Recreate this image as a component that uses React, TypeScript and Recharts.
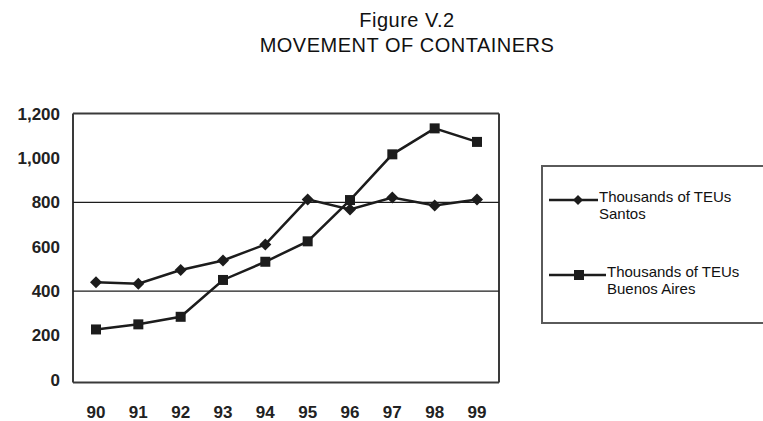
import {
  LineChart,
  Line,
  XAxis,
  YAxis,
  CartesianGrid,
  ReferenceLine,
} from "recharts";

const years = ["90", "91", "92", "93", "94", "95", "96", "97", "98", "99"];
const santos = [440, 433, 495, 538, 610, 813, 768, 821, 786, 813];
const buenosAires = [227, 250, 284, 450, 532, 624, 810, 1016, 1133, 1072];
const yTicks = [0, 200, 400, 600, 800, 1000, 1200];
const gridValues = [400, 800];

const data = years.map((year, i) => ({
  year,
  santos: santos[i],
  buenosAires: buenosAires[i],
}));

const INK = "#1c1c1c";
const FRAME = "#3a3a3a";
const FONT = "'Liberation Sans', Arial, sans-serif";

const Diamond = (props: any) => {
  const { cx, cy } = props;
  if (cx == null || cy == null) return null;
  const r = 6;
  return (
    <polygon
      points={`${cx},${cy - r} ${cx + r},${cy} ${cx},${cy + r} ${cx - r},${cy}`}
      fill={INK}
    />
  );
};

const Square = (props: any) => {
  const { cx, cy } = props;
  if (cx == null || cy == null) return null;
  const s = 10;
  return <rect x={cx - s / 2} y={cy - s / 2} width={s} height={s} fill={INK} />;
};

// legend box, drawn by hand to match the original layout
const LegendBox = () => (
  <div
    style={{
      position: "absolute",
      left: 541,
      top: 165,
      width: 240,
      height: 155,
      border: "2px solid #5a5a5a",
      background: "#fff",
      fontFamily: FONT,
      fontSize: 15,
      lineHeight: "17px",
      color: "#111",
    }}
  >
    <svg
      width={80}
      height={130}
      style={{ position: "absolute", left: 0, top: 0 }}
    >
      <line x1={6} x2={55} y1={33} y2={33} stroke={INK} strokeWidth={2.5} />
      <polygon points="35,28 40,33 35,38 30,33" fill={INK} />
      <line x1={6} x2={63} y1={108} y2={108} stroke={INK} strokeWidth={2.5} />
      <rect x={31} y={103} width={10} height={10} fill={INK} />
    </svg>
    <div style={{ position: "absolute", left: 56, top: 21, whiteSpace: "nowrap" }}>
      Thousands of TEUs
      <br />
      Santos
    </div>
    <div style={{ position: "absolute", left: 64, top: 96, whiteSpace: "nowrap" }}>
      Thousands of TEUs
      <br />
      Buenos Aires
    </div>
  </div>
);

const titleStyle = {
  position: "absolute" as const,
  left: 0,
  width: 814,
  textAlign: "center" as const,
  fontFamily: FONT,
  fontSize: 20,
  lineHeight: "25px",
  letterSpacing: 0.5,
  color: "#111",
};

const tickFont = { fontFamily: FONT, fontSize: 17, fontWeight: 700, fill: "#222" };

// frame around the plot area: grid lines only at its four edges
const frameRows = ({ offset }: any) => [offset.top, offset.top + offset.height];
const frameCols = ({ offset }: any) => [offset.left, offset.left + offset.width];

export default function App() {
  return (
    <div
      style={{
        position: "absolute",
        left: 0,
        top: 0,
        width: 763,
        height: 421,
        background: "#fff",
        overflow: "hidden",
      }}
    >
      <div style={{ ...titleStyle, top: 8 }}>Figure V.2</div>
      <div style={{ ...titleStyle, top: 33 }}>MOVEMENT OF CONTAINERS</div>
      <LineChart
        width={763}
        height={421}
        data={data}
        margin={{ top: 113.5, right: 264, bottom: 0, left: 0 }}
      >
        <CartesianGrid
          horizontalCoordinatesGenerator={frameRows}
          verticalCoordinatesGenerator={frameCols}
          stroke={FRAME}
          strokeWidth={2}
        />
        <XAxis
          dataKey="year"
          height={38.5}
          padding={{ left: 23, right: 22 }}
          axisLine={false}
          tickLine={false}
          tickSize={0}
          tickMargin={23}
          interval={0}
          tick={tickFont}
        />
        <YAxis
          width={73}
          domain={[-12, 1200]}
          ticks={yTicks}
          allowDataOverflow
          axisLine={false}
          tickLine={false}
          tickSize={0}
          tickMargin={13}
          tickFormatter={(v: number) => v.toLocaleString("en-US")}
          tick={tickFont}
        />
        {gridValues.map((v) => (
          <ReferenceLine key={v} y={v} stroke={INK} strokeWidth={1.3} />
        ))}
        <Line
          dataKey="santos"
          name="Thousands of TEUs Santos"
          stroke={INK}
          strokeWidth={2.5}
          dot={<Diamond />}
          activeDot={false}
          isAnimationActive={false}
        />
        <Line
          dataKey="buenosAires"
          name="Thousands of TEUs Buenos Aires"
          stroke={INK}
          strokeWidth={2.5}
          dot={<Square />}
          activeDot={false}
          isAnimationActive={false}
        />
      </LineChart>
      <LegendBox />
    </div>
  );
}
